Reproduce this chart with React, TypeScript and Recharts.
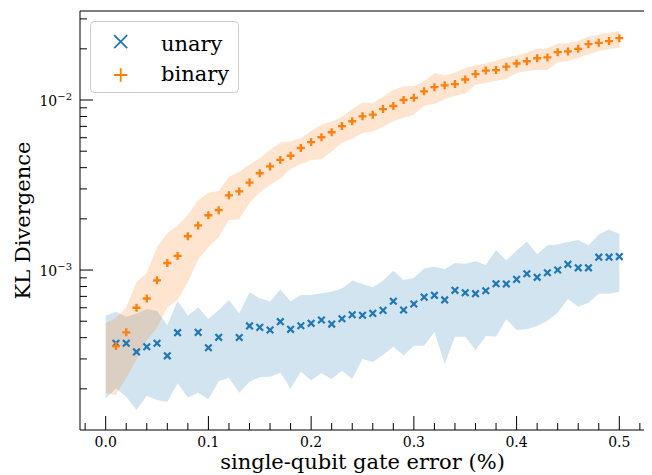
import { ComposedChart, Area, Scatter, XAxis, YAxis, ReferenceLine } from "recharts";

// single-qubit gate error (%), band samples start at 0, markers at 0.01
const errorRate = [
  0, 0.01, 0.02, 0.03, 0.04, 0.05, 0.06, 0.07, 0.08, 0.09,
  0.1, 0.11, 0.12, 0.13, 0.14, 0.15, 0.16, 0.17, 0.18, 0.19,
  0.2, 0.21, 0.22, 0.23, 0.24, 0.25, 0.26, 0.27, 0.28, 0.29,
  0.3, 0.31, 0.32, 0.33, 0.34, 0.35, 0.36, 0.37, 0.38, 0.39,
  0.4, 0.41, 0.42, 0.43, 0.44, 0.45, 0.46, 0.47, 0.48, 0.49,
  0.5,
];

const unaryKL = [
  null, 3.71e-4, 3.71e-4, 3.3e-4, 3.54e-4, 3.71e-4, 3.13e-4, 4.28e-4, null, 4.3e-4,
  3.49e-4, 4.02e-4, null, 4.01e-4, 4.69e-4, 4.6e-4, 4.44e-4, 4.97e-4, 4.48e-4, 4.7e-4,
  4.86e-4, 5.08e-4, 4.81e-4, 5.17e-4, 5.46e-4, 5.42e-4, 5.56e-4, 5.79e-4, 6.55e-4, 5.82e-4,
  6.31e-4, 6.93e-4, 7.1e-4, 6.67e-4, 7.6e-4, 7.35e-4, 7.26e-4, 7.55e-4, 8.3e-4, 8.28e-4,
  8.81e-4, 9.51e-4, 9.06e-4, 9.64e-4, 1.0e-3, 1.08e-3, 1.03e-3, 1.03e-3, 1.19e-3, 1.19e-3,
  1.2e-3,
];

const unaryLow = [
  1.76e-4, 2.01e-4, 1.8e-4, 1.5e-4, 1.82e-4, 1.72e-4, 1.68e-4, 2.16e-4, 1.78e-4, 1.9e-4,
  1.74e-4, 2.22e-4, 2.32e-4, 1.9e-4, 2.2e-4, 2.34e-4, 2.36e-4, 2.49e-4, 2.01e-4, 2.52e-4,
  2.25e-4, 2.47e-4, 2.29e-4, 2.56e-4, 2.29e-4, 3.0e-4, 2.88e-4, 3.16e-4, 3.54e-4, 3.15e-4,
  3.59e-4, 3.59e-4, 4.32e-4, 2.8e-4, 4.05e-4, 4.05e-4, 3.38e-4, 4.09e-4, 4.05e-4, 5.13e-4,
  4.44e-4, 4.48e-4, 4.69e-4, 5.03e-4, 5.61e-4, 6.75e-4, 6.08e-4, 6.43e-4, 7.26e-4, 7.26e-4,
  7.45e-4,
];

const unaryHigh = [
  5.38e-4, 5.69e-4, 5.31e-4, 5.56e-4, 5.9e-4, 5.74e-4, 4.74e-4, 6.6e-4, 5.38e-4, 6.04e-4,
  5.15e-4, 5.82e-4, 6.67e-4, 5.56e-4, 7.4e-4, 6.82e-4, 6.52e-4, 7.69e-4, 6.52e-4, 7.13e-4,
  7.13e-4, 7.3e-4, 7.45e-4, 7.8e-4, 8.65e-4, 8.28e-4, 7.91e-4, 8.65e-4, 9.91e-4, 8.73e-4,
  8.97e-4, 1.02e-3, 1.045e-3, 1.01e-3, 1.1e-3, 1.09e-3, 1.125e-3, 1.07e-3, 1.31e-3, 1.14e-3,
  1.3e-3, 1.47e-3, 1.24e-3, 1.4e-3, 1.42e-3, 1.46e-3, 1.5e-3, 1.4e-3, 1.62e-3, 1.73e-3,
  1.63e-3,
];

const binaryKL = [
  null, 3.57e-4, 4.3e-4, 6.0e-4, 6.8e-4, 8.7e-4, 1.1e-3, 1.21e-3, 1.58e-3, 1.83e-3,
  2.1e-3, 2.25e-3, 2.75e-3, 2.9e-3, 3.27e-3, 3.71e-3, 4.07e-3, 4.44e-3, 4.7e-3, 5.22e-3,
  5.66e-3, 6.04e-3, 6.46e-3, 7.03e-3, 7.5e-3, 8.02e-3, 8.2e-3, 8.85e-3, 9.22e-3, 1.0e-2,
  1.03e-2, 1.125e-2, 1.19e-2, 1.22e-2, 1.24e-2, 1.32e-2, 1.42e-2, 1.49e-2, 1.5e-2, 1.57e-2,
  1.64e-2, 1.69e-2, 1.76e-2, 1.78e-2, 1.91e-2, 1.93e-2, 2.0e-2, 2.13e-2, 2.17e-2, 2.22e-2,
  2.31e-2,
];

const binaryLow = [
  1.89e-4, 1.84e-4, 2.32e-4, 2.99e-4, 3.87e-4, 4.56e-4, 6.05e-4, 6.67e-4, 8.49e-4, 1.15e-3,
  1.36e-3, 1.56e-3, 1.97e-3, 1.99e-3, 2.48e-3, 2.86e-3, 3.16e-3, 3.46e-3, 3.93e-3, 4.21e-3,
  4.44e-3, 4.48e-3, 4.98e-3, 5.61e-3, 5.92e-3, 6.4e-3, 6.52e-3, 6.94e-3, 7.52e-3, 7.87e-3,
  8.2e-3, 9.25e-3, 9.47e-3, 1.01e-2, 1.06e-2, 1.09e-2, 1.23e-2, 1.26e-2, 1.3e-2, 1.33e-2,
  1.44e-2, 1.48e-2, 1.5e-2, 1.5e-2, 1.67e-2, 1.69e-2, 1.77e-2, 1.86e-2, 1.94e-2, 1.99e-2,
  2.03e-2,
];

const binaryHigh = [
  4.88e-4, 5.22e-4, 6.05e-4, 8.49e-4, 9.6e-4, 1.36e-3, 1.65e-3, 1.82e-3, 2.11e-3, 2.58e-3,
  2.85e-3, 2.92e-3, 3.54e-3, 3.79e-3, 4.18e-3, 4.54e-3, 5.08e-3, 5.62e-3, 5.69e-3, 5.98e-3,
  6.57e-3, 7.18e-3, 7.48e-3, 7.94e-3, 8.85e-3, 9.66e-3, 9.57e-3, 1.045e-2, 1.145e-2, 1.2e-2,
  1.21e-2, 1.29e-2, 1.44e-2, 1.4e-2, 1.45e-2, 1.54e-2, 1.6e-2, 1.64e-2, 1.7e-2, 1.78e-2,
  1.83e-2, 1.9e-2, 2.0e-2, 2.01e-2, 2.14e-2, 2.16e-2, 2.22e-2, 2.36e-2, 2.43e-2, 2.49e-2,
  2.55e-2,
];

const xTicks = [
  -0.02, 0, 0.02, 0.04, 0.06, 0.08, 0.1, 0.12, 0.14, 0.16, 0.18, 0.2, 0.22, 0.24,
  0.26, 0.28, 0.3, 0.32, 0.34, 0.36, 0.38, 0.4, 0.42, 0.44, 0.46, 0.48, 0.5, 0.52,
];
const yTicks = [
  2e-4, 3e-4, 4e-4, 5e-4, 6e-4, 7e-4, 8e-4, 9e-4, 1e-3,
  2e-3, 3e-3, 4e-3, 5e-3, 6e-3, 7e-3, 8e-3, 9e-3, 1e-2, 2e-2, 3e-2,
];

const X_DOMAIN = [-0.025, 0.525];
const Y_DOMAIN = [1.146e-4, 0.03338];

const BLUE = "#1f77b4";
const ORANGE = "#ff7f0e";
const FONT = "'DejaVu Serif', serif";

const bands = errorRate.map((x, i) => ({
  x,
  uLo: unaryLow[i],
  uHi: unaryHigh[i],
  bLo: binaryLow[i],
  bHi: binaryHigh[i],
}));
const unaryPts = errorRate
  .map((x, i) => ({ x, y: unaryKL[i] }))
  .filter((p) => p.y != null);
const binaryPts = errorRate
  .map((x, i) => ({ x, y: binaryKL[i] }))
  .filter((p) => p.y != null);

const isMajorX = (v: number) => Math.abs(v * 10 - Math.round(v * 10)) < 1e-6;
const isMajorY = (v: number) =>
  Math.abs(Math.log10(v) - Math.round(Math.log10(v))) < 1e-6;

function XTick(props: any) {
  const { x, y, payload } = props;
  const major = isMajorX(payload.value);
  return (
    <g>
      <line x1={x} x2={x} y1={y} y2={y - (major ? 14 : 7)} stroke="#000" strokeWidth={1} />
      {major && (
        <text x={x} y={y + 17} textAnchor="middle" fontSize={14} fontFamily={FONT} fill="#000">
          {payload.value.toFixed(1)}
        </text>
      )}
    </g>
  );
}

function YTick(props: any) {
  const { x, y, payload } = props;
  const major = isMajorY(payload.value);
  const exp = Math.round(Math.log10(payload.value));
  return (
    <g>
      <line x1={x} x2={x + (major ? 13 : 7)} y1={y} y2={y} stroke="#000" strokeWidth={1} />
      {major && (
        <text x={x - 8} y={y + 5.5} textAnchor="end" fontSize={14} fontFamily={FONT} fill="#000">
          10
          <tspan dy={-6} fontSize={10}>
            {"\u2212" + Math.abs(exp)}
          </tspan>
        </text>
      )}
    </g>
  );
}

function Cross(props: any) {
  const { cx, cy } = props;
  const r = 3.3;
  return (
    <path
      d={`M${cx - r},${cy - r}L${cx + r},${cy + r}M${cx - r},${cy + r}L${cx + r},${cy - r}`}
      stroke={BLUE}
      strokeWidth={2.2}
      fill="none"
    />
  );
}

function Plus(props: any) {
  const { cx, cy } = props;
  const r = 4;
  return (
    <path
      d={`M${cx - r},${cy}L${cx + r},${cy}M${cx},${cy - r}L${cx},${cy + r}`}
      stroke={ORANGE}
      strokeWidth={2.3}
      fill="none"
    />
  );
}

function LegendBox() {
  return (
    <svg
      width={644}
      height={467}
      style={{ position: "absolute", left: 0, top: 0, pointerEvents: "none" }}
    >
      <rect x={82.5} y={13.5} width={148} height={71} rx={4} fill="#fff" fillOpacity={0.8} stroke="#cccccc" />
      <path d="M106.2,27.2L119.2,40.2M106.2,40.2L119.2,27.2" stroke={BLUE} strokeWidth={1.8} />
      <path d="M106,67L119.4,67M112.7,60.3L112.7,73.7" stroke={ORANGE} strokeWidth={1.8} />
      <text x={153} y={42.5} fontSize={21} fontFamily={FONT} fill="#000">unary</text>
      <text x={153} y={72.5} fontSize={21} fontFamily={FONT} fill="#000">binary</text>
    </svg>
  );
}

export default function App() {
  return (
    <div style={{ position: "relative", width: 644, height: 467 }}>
      <ComposedChart
        width={644}
        height={467}
        data={bands}
        margin={{ top: 3, right: 7, bottom: 0, left: 0 }}
      >
        <XAxis
          dataKey="x"
          type="number"
          domain={X_DOMAIN}
          ticks={xTicks}
          interval={0}
          height={45}
          tickSize={0}
          tickMargin={0}
          tickLine={false}
          tick={XTick}
          axisLine={{ stroke: "#000", strokeWidth: 1 }}
          allowDataOverflow
          label={(p: any) => {
            const vb = p.viewBox;
            return (
              <text
                x={vb.x + vb.width / 2}
                y={vb.y + 39}
                textAnchor="middle"
                fontSize={21}
                fontFamily={FONT}
                fill="#000"
              >
                single-qubit gate error (%)
              </text>
            );
          }}
        />
        <YAxis
          type="number"
          scale="log"
          domain={Y_DOMAIN}
          allowDataOverflow
          ticks={yTicks}
          interval={0}
          width={72}
          tickSize={0}
          tickMargin={0}
          tickLine={false}
          tick={YTick}
          axisLine={{ stroke: "#000", strokeWidth: 1 }}
          label={(p: any) => {
            const vb = p.viewBox;
            const cx = vb.x + 15;
            const cy = vb.y + vb.height / 2;
            return (
              <text
                x={cx}
                y={cy}
                transform={`rotate(-90, ${cx}, ${cy})`}
                textAnchor="middle"
                dominantBaseline="central"
                fontSize={21}
                fontFamily={FONT}
                fill="#000"
              >
                KL Divergence
              </text>
            );
          }}
        />
        <YAxis
          yAxisId="right"
          orientation="right"
          type="number"
          domain={[0, 1]}
          width={0}
          tick={false}
          tickLine={false}
          axisLine={{ stroke: "#000", strokeWidth: 1 }}
        />
        <Scatter data={unaryPts} dataKey="y" shape={Cross} isAnimationActive={false} />
        <Scatter data={binaryPts} dataKey="y" shape={Plus} isAnimationActive={false} />
        <Area
          type="linear"
          dataKey={(d: any) => [d.uLo, d.uHi]}
          stroke="none"
          fill={BLUE}
          fillOpacity={0.2}
          isAnimationActive={false}
          activeDot={false}
        />
        <Area
          type="linear"
          dataKey={(d: any) => [d.bLo, d.bHi]}
          stroke="none"
          fill={ORANGE}
          fillOpacity={0.2}
          isAnimationActive={false}
          activeDot={false}
        />
        {/* top spine of the frame */}
        <ReferenceLine y={Y_DOMAIN[1]} stroke="#000" strokeWidth={1} ifOverflow="visible" />
      </ComposedChart>
      <LegendBox />
    </div>
  );
}
